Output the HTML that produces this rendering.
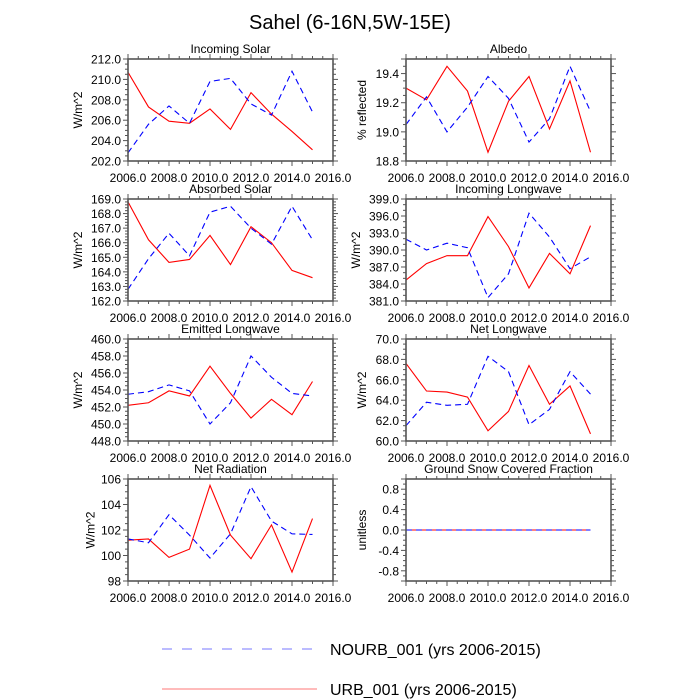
<!DOCTYPE html>
<html><head><meta charset="utf-8"><style>
html,body{margin:0;padding:0;background:#fff;}
svg{display:block;font-family:"Liberation Sans",sans-serif;}
</style></head><body>
<svg id="chart" width="700" height="700" viewBox="0 0 700 700" xmlns="http://www.w3.org/2000/svg">
<text x="350" y="29" text-anchor="middle" font-size="20">Sahel (6-16N,5W-15E)</text>
<g id="panels"></g>
<g>
<line x1="162" y1="649" x2="317" y2="649" stroke="#7777ff" stroke-width="1" stroke-dasharray="10,10"/>
<text x="330" y="655" font-size="16">NOURB_001 (yrs 2006-2015)</text>
<line x1="162" y1="689" x2="317" y2="689" stroke="#ff7777" stroke-width="1"/>
<text x="330" y="695" font-size="16">URB_001 (yrs 2006-2015)</text>
</g>
</svg>
<script>
const years = [2006,2007,2008,2009,2010,2011,2012,2013,2014,2015];
const xTicks = [2006,2008,2010,2012,2014,2016];
const xTickLabels = ["2006.0","2008.0","2010.0","2012.0","2014.0","2016.0"];

const solarUrb = [210.7,207.3,205.9,205.7,207.1,205.1,208.7,206.6,204.9,203.1];
const solarNourb = [202.8,205.6,207.4,205.7,209.8,210.1,207.6,206.5,210.8,206.8];
const solarTicks = [202,204,206,208,210,212];
const solarTickLabels = ["202.0","204.0","206.0","208.0","210.0","212.0"];

const albedoUrb = [19.30,19.22,19.45,19.28,18.86,19.21,19.38,19.02,19.35,18.86];
const albedoNourb = [19.05,19.24,19.00,19.17,19.38,19.23,18.93,19.09,19.45,19.14];
const albedoTicks = [18.8,19.0,19.2,19.4];
const albedoTickLabels = ["18.8","19.0","19.2","19.4"];

const absUrb = [168.8,166.2,164.65,164.85,166.5,164.5,167.1,166.0,164.1,163.6];
const absNourb = [162.8,164.9,166.65,165.1,168.1,168.5,167.0,165.9,168.5,166.2];
const absTicks = [162,163,164,165,166,167,168,169];
const absTickLabels = ["162.0","163.0","164.0","165.0","166.0","167.0","168.0","169.0"];

const inLwUrb = [384.7,387.6,389.0,389.0,395.9,390.6,383.3,389.4,385.8,394.3];
const inLwNourb = [391.9,390.0,391.2,390.4,381.6,385.8,396.5,392.3,386.7,388.8];
const inLwTicks = [381,384,387,390,393,396,399];
const inLwTickLabels = ["381.0","384.0","387.0","390.0","393.0","396.0","399.0"];

const emLwUrb = [452.2,452.5,453.9,453.3,456.8,453.6,450.7,452.9,451.1,455.0];
const emLwNourb = [453.5,453.8,454.6,453.9,450.0,452.5,458.0,455.5,453.6,453.3];
const emLwTicks = [448,450,452,454,456,458,460];
const emLwTickLabels = ["448.0","450.0","452.0","454.0","456.0","458.0","460.0"];

const netLwUrb = [67.6,64.9,64.8,64.3,61.0,62.9,67.4,63.6,65.4,60.7];
const netLwNourb = [61.5,63.8,63.5,63.6,68.3,66.8,61.6,63.1,66.8,64.6];
const netLwTicks = [60,62,64,66,68,70];
const netLwTickLabels = ["60.0","62.0","64.0","66.0","68.0","70.0"];

const netRadUrb = [101.2,101.3,99.85,100.5,105.5,101.6,99.75,102.4,98.7,102.9];
const netRadNourb = [101.3,101.0,103.2,101.6,99.8,101.7,105.4,102.7,101.7,101.65];
const netRadTicks = [98,100,102,104,106];
const netRadTickLabels = ["98","100","102","104","106"];

const snowUrb = [0,0,0,0,0,0,0,0,0,0];
const snowNourb = [0,0,0,0,0,0,0,0,0,0];
const snowTicks = [-0.8,-0.4,0,0.4,0.8];
const snowTickLabels = ["-0.8","-0.4","0.0","0.4","0.8"];

const NS = "http://www.w3.org/2000/svg";
const root = document.getElementById('panels');
function mk(tag, attrs, parent){
  const e = document.createElementNS(NS, tag);
  for (const k in attrs) e.setAttribute(k, attrs[k]);
  parent.appendChild(e);
  return e;
}
const panels = [
  {name:"incoming-solar", title:"Incoming Solar", ylab:"W/m^2", col:0,row:0, ymin:202,ymax:212, minor:0.5, ticks:solarTicks, labels:solarTickLabels, urb:solarUrb, nourb:solarNourb},
  {name:"albedo", title:"Albedo", ylab:"% reflected", col:1,row:0, ymin:18.8,ymax:19.5, minor:0.05, ticks:albedoTicks, labels:albedoTickLabels, urb:albedoUrb, nourb:albedoNourb},
  {name:"absorbed-solar", title:"Absorbed Solar", ylab:"W/m^2", col:0,row:1, ymin:162,ymax:169, minor:0.2, ticks:absTicks, labels:absTickLabels, urb:absUrb, nourb:absNourb},
  {name:"incoming-longwave", title:"Incoming Longwave", ylab:"W/m^2", col:1,row:1, ymin:381,ymax:399, minor:1, ticks:inLwTicks, labels:inLwTickLabels, urb:inLwUrb, nourb:inLwNourb},
  {name:"emitted-longwave", title:"Emitted Longwave", ylab:"W/m^2", col:0,row:2, ymin:448,ymax:460, minor:0.5, ticks:emLwTicks, labels:emLwTickLabels, urb:emLwUrb, nourb:emLwNourb},
  {name:"net-longwave", title:"Net Longwave", ylab:"W/m^2", col:1,row:2, ymin:60,ymax:70, minor:0.5, ticks:netLwTicks, labels:netLwTickLabels, urb:netLwUrb, nourb:netLwNourb},
  {name:"net-radiation", title:"Net Radiation", ylab:"W/m^2", col:0,row:3, ymin:98,ymax:106, minor:0.5, ticks:netRadTicks, labels:netRadTickLabels, urb:netRadUrb, nourb:netRadNourb},
  {name:"ground-snow", title:"Ground Snow Covered Fraction", ylab:"unitless", col:1,row:3, ymin:-1,ymax:1, minor:0.1, ticks:snowTicks, labels:snowTickLabels, urb:snowUrb, nourb:snowNourb}
];
const colX = [128, 406], W = 205, H = 102;
const rowY = [59, 199, 339, 479];
const AX = "#555";
panels.forEach(p=>{
  const L = colX[p.col], T = rowY[p.row], R = L+W, B = T+H;
  const sx = v => L + (v-2006)/10*W;
  const sy = v => B - (v-p.ymin)/(p.ymax-p.ymin)*H;
  const g = mk('g',{},root);
  
  
  const t = mk('text',{x:(L+R)/2,y:T-6,'text-anchor':'middle','font-size':12},g);
  t.textContent = p.title;
  
  
  const tg = mk('g',{stroke:AX,'stroke-width':1},g);
  
  
  for (let v=2006; v<=2016.001; v+=0.5){
    const major = Math.abs((v-2006)%2)<0.01;
    const len = major?5:3, x = sx(v);
    mk('line',{x1:x,y1:B,x2:x,y2:B+len},tg);
    mk('line',{x1:x,y1:T,x2:x,y2:T-len},tg);
  }
  const nMin = Math.round((p.ymax-p.ymin)/p.minor);
  for (let i=0;i<=nMin;i++){
    const v = p.ymin + i*p.minor;
    const major = p.ticks.some(tv=>Math.abs(tv-v)<p.minor*0.1) || i===0 || i===nMin;
    const len = major?5:3, y = sy(v);
    mk('line',{x1:L,y1:y,x2:L-len,y2:y},tg);
    mk('line',{x1:R,y1:y,x2:R+len,y2:y},tg);
  }
  let maxw = 0;
  p.ticks.forEach((v,i)=>{
    const e = mk('text',{x:L-7,y:sy(v)+4.5,'text-anchor':'end','font-size':12},g);
    e.textContent = p.labels[i];
    
    
    maxw = Math.max(maxw, p.labels[i].length*6.2);
  });
  xTicks.forEach((v,i)=>{
    const e = mk('text',{x:sx(v),y:B+21,'text-anchor':'middle','font-size':12},g);
    e.textContent = xTickLabels[i];
    
    
  });
  const yx = L-7-maxw-8;
  const yt = mk('text',{x:yx,y:(T+B)/2,'text-anchor':'middle','font-size':12,transform:`rotate(-90 ${yx} ${(T+B)/2})`},g);
  yt.textContent = p.ylab;
  
  
  const ptsU = years.map((y,i)=>sx(y)+','+sy(p.urb[i])).join(' ');
  const ptsN = years.map((y,i)=>sx(y)+','+sy(p.nourb[i])).join(' ');
  const lu = mk('polyline',{points:ptsU,fill:'none',stroke:'#ff0000','stroke-width':1.1},g);
  
  
  const ln = mk('polyline',{points:ptsN,fill:'none',stroke:'#0000ff','stroke-width':1.1,'stroke-dasharray':'6,4'},g);
  
  
  const f = mk('rect',{x:L,y:T,width:W,height:H,fill:'none',stroke:AX,'stroke-width':1.6},g);
  
  
});
</script>
</body></html>
